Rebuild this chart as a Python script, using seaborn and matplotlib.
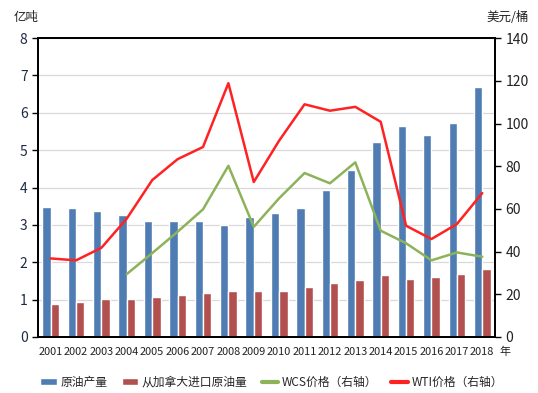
import numpy as np
import pandas as pd
import matplotlib
matplotlib.use("Agg")
import matplotlib.pyplot as plt
import seaborn as sns
from matplotlib.patches import Patch
from matplotlib.lines import Line2D

# data
years = [str(y) for y in range(2001, 2019)]
production = [3.48, 3.45, 3.38, 3.27, 3.11, 3.10, 3.10, 3.00, 3.21, 3.32,
              3.44, 3.93, 4.47, 5.21, 5.66, 5.41, 5.73, 6.68]
imports_canada = [0.87, 0.95, 1.02, 1.03, 1.07, 1.13, 1.19, 1.22, 1.22, 1.24,
                  1.33, 1.44, 1.52, 1.66, 1.55, 1.60, 1.68, 1.82]
wcs_price = [np.nan, np.nan, np.nan, 29.5, 39.3, 49.3, 59.8, 80.2, 51.6, 65.0,
             76.8, 72.0, 81.8, 49.8, 43.9, 35.9, 39.6, 37.6]
wti_price = [36.8, 35.9, 41.8, 55.5, 73.5, 83.3, 89.0, 118.9, 72.6, 92.0,
             109.0, 106.0, 107.8, 100.8, 52.1, 45.9, 52.9, 67.4]

names = ["原油产量", "从加拿大进口原油量", "WCS价格（右轴）", "WTI价格（右轴）"]
colors = ["#4F7DB3", "#B2504F", "#8DB35A", "#FF2222"]

sns.set_style("white")
plt.rcParams['font.family'] = ['Noto Sans CJK SC', 'DejaVu Sans']

bars = pd.DataFrame({
    "year": years * 2,
    "value": production + imports_canada,
    "series": [names[0]] * len(years) + [names[1]] * len(years),
})
lines = pd.DataFrame({"pos": np.arange(len(years)), "wcs": wcs_price, "wti": wti_price})

fig = plt.figure(figsize=(5.38, 3.93), dpi=100)
ax = fig.add_axes([0.0706, 0.1425, 0.8494, 0.7605])

sns.barplot(data=bars, x="year", y="value", hue="series", palette=colors[:2],
            width=0.66, gap=0, ax=ax, legend=False, saturation=1)
ax.set_ylim(0, 8)
ax.set_xlim(-0.5, len(years) - 0.5)
ax.set_yticks(range(0, 9))
ax.yaxis.grid(True, color="#D9D9D9", linewidth=0.9)
ax.set_axisbelow(True)
ax.set_xlabel("")
ax.set_ylabel("")
ax.set_xticks(range(len(years)))
ax.set_xticklabels(years, fontsize=7.9, color="#222222")
ax.tick_params(axis="x", length=0, pad=7)
ax.tick_params(axis="y", labelsize=10, length=4, width=1, direction="out",
               color="black", colors="#1F2A44", left=True)
for s in ax.spines.values():
    s.set_color("black")
    s.set_linewidth(1.3)
# unit after the last year label
ax.annotate("年", xy=(len(years) - 1, 0), xycoords=("data", "axes fraction"),
            xytext=(12.5, -7), textcoords="offset points", fontsize=7.9,
            color="#222222", ha="left", va="top")

ax2 = ax.twinx()
sns.lineplot(data=lines, x="pos", y="wcs", color=colors[2], linewidth=1.8, ax=ax2)
sns.lineplot(data=lines, x="pos", y="wti", color=colors[3], linewidth=1.8, ax=ax2)
ax2.set_ylim(0, 140)
ax2.set_yticks(range(0, 141, 20))
ax2.set_xlim(-0.5, len(years) - 0.5)
ax2.set_xlabel("")
ax2.set_ylabel("")
ax2.tick_params(axis="y", labelsize=10, length=4, width=1, direction="out",
                color="black", colors="#222222", right=True)
for s in ax2.spines.values():
    s.set_color("black")
    s.set_linewidth(1.3)

fig.text(0.026, 0.955, "亿吨", fontsize=9, color="#222222", va="center")
fig.text(0.905, 0.955, "美元/桶", fontsize=9, color="#222222", va="center")

handles = [
    Patch(facecolor=colors[0]),
    Patch(facecolor=colors[1]),
    Line2D([0], [0], color=colors[2], linewidth=3),
    Line2D([0], [0], color=colors[3], linewidth=3),
]
fig.legend(handles, names, loc="center", bbox_to_anchor=(0.505, 0.027), ncol=4,
           frameon=False, fontsize=8.5, handlelength=1.4, handleheight=0.6,
           columnspacing=1.2, handletextpad=0.3)

fig.savefig("out.png", dpi=100)
